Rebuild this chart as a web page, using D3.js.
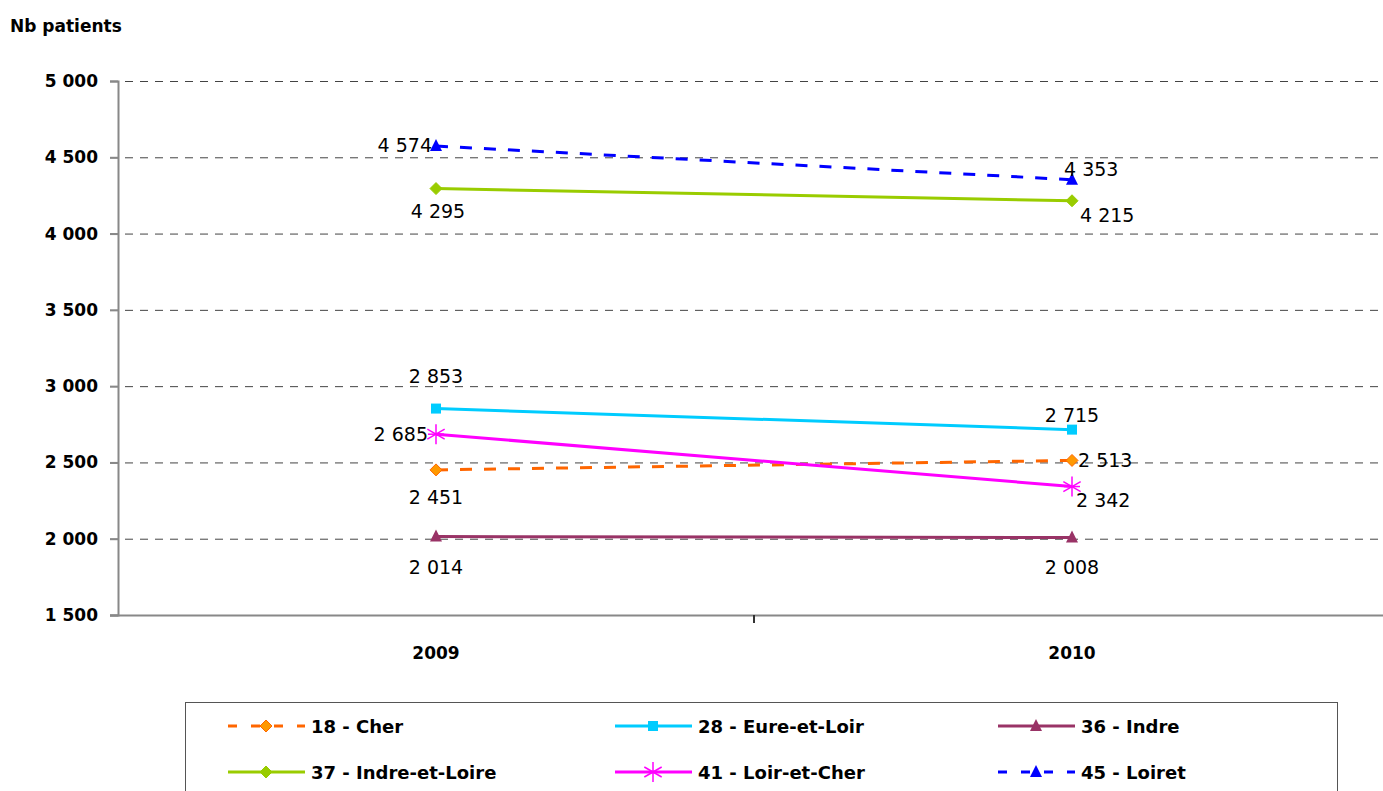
<!DOCTYPE html>
<html>
<head>
<meta charset="utf-8">
<script src="https://cdn.jsdelivr.net/npm/d3@7"></script>
<style>
  body { margin: 0; background: #fff; }
  svg { display: block; font-family: "Comic Sans MS", "DejaVu Sans", sans-serif; }
</style>
</head>
<body>
<svg id="chart" width="1383" height="791"></svg>
<script>
// data
const years = ["2009", "2010"];
const names = ["18 - Cher", "28 - Eure-et-Loir", "36 - Indre", "37 - Indre-et-Loire", "41 - Loir-et-Cher", "45 - Loiret"];
const cher = [2451, 2513];
const eure = [2853, 2715];
const indre = [2014, 2008];
const indreLoire = [4295, 4215];
const loirCher = [2685, 2342];
const loiret = [4574, 4353];
const yTicks = [1500, 2000, 2500, 3000, 3500, 4000, 4500, 5000];

const series = [
  { name: names[0], values: cher, color: "#FF6600", marker: "diamond", mfill: "#FF9900", dash: "12,12", labels: [[0, 28, "middle"], [6, 1, "start"]] },
  { name: names[1], values: eure, color: "#00CCFF", marker: "square", mfill: "#00CCFF", dash: null, labels: [[0, -32, "middle"], [0, -14, "middle"]] },
  { name: names[2], values: indre, color: "#993366", marker: "triangle", mfill: "#993366", dash: null, labels: [[0, 31, "middle"], [0, 31, "middle"]] },
  { name: names[3], values: indreLoire, color: "#99CC00", marker: "diamond", mfill: "#99CC00", dash: null, labels: [[2, 23, "middle"], [8, 15, "start"]] },
  { name: names[4], values: loirCher, color: "#FF00FF", marker: "star", mfill: "#FF00FF", dash: null, labels: [[-8, 1, "end"], [4, 14, "start"]] },
  { name: names[5], values: loiret, color: "#0000FF", marker: "triangle", mfill: "#0000FF", dash: "12,12", labels: [[-4, 0, "end"], [-8, -10, "start"]] }
];

const svg = d3.select("#chart");
const fmt = v => d3.format(",")(v).replace(/,/g, " ");

const x = d3.scaleBand().domain(years).range([118, 1390]);
const y = d3.scaleLinear().domain([1500, 5000]).range([615, 81]);

// gridlines
svg.append("g").selectAll("line").data(yTicks).join("line")
  .attr("x1", 110).attr("x2", 1383)
  .attr("y1", d => y(d) + 0.5).attr("y2", d => y(d) + 0.5)
  .attr("stroke", d => d === 1500 ? "#888" : "#444")
  .attr("stroke-width", d => d === 1500 ? 2 : 1)
  .attr("stroke-dasharray", d => d === 1500 ? null : "8,7");

// y axis
const yAxis = svg.append("g").attr("transform", "translate(118,0)")
  .call(d3.axisLeft(y).tickValues(yTicks).tickFormat(fmt).tickSize(8).tickPadding(12));
yAxis.attr("font-family", null).attr("font-size", null);
yAxis.select(".domain").attr("stroke", "#888").attr("stroke-width", 2);
yAxis.selectAll(".tick line").attr("stroke", "#888").attr("stroke-width", 2);
yAxis.selectAll("text").style("font-size", "17px").style("font-weight", "bold").attr("fill", "#000");

// x axis
const xAxis = svg.append("g").attr("transform", "translate(0,615)")
  .call(d3.axisBottom(x).tickSize(0).tickPadding(32));
xAxis.attr("font-family", null).attr("font-size", null);
xAxis.select(".domain").remove();
xAxis.selectAll("text").style("font-size", "17px").style("font-weight", "bold").attr("fill", "#000");
svg.append("line").attr("x1", 118 + x.bandwidth()).attr("x2", 118 + x.bandwidth())
  .attr("y1", 615).attr("y2", 623).attr("stroke", "#333").attr("stroke-width", 2);

svg.append("text").attr("x", 10).attr("y", 32).style("font-size", "17px").style("font-weight", "bold").text("Nb patients");

function drawMarker(g, s, cx, cy) {
  if (s.marker === "diamond") {
    g.append("path").attr("d", `M${cx},${cy - 6}L${cx + 6},${cy}L${cx},${cy + 6}L${cx - 6},${cy}Z`)
      .attr("fill", s.mfill).attr("stroke", s.color).attr("stroke-width", 1);
  } else if (s.marker === "square") {
    g.append("rect").attr("x", cx - 5).attr("y", cy - 5).attr("width", 10).attr("height", 10).attr("fill", s.mfill);
  } else if (s.marker === "triangle") {
    g.append("path").attr("d", `M${cx},${cy - 7}L${cx + 6},${cy + 5}L${cx - 6},${cy + 5}Z`).attr("fill", s.mfill);
  } else if (s.marker === "star") {
    const r = 10;
    [0, 60, 120].forEach(a => {
      const rad = a * Math.PI / 180;
      g.append("line").attr("x1", cx - r * Math.sin(rad)).attr("y1", cy - r * Math.cos(rad))
        .attr("x2", cx + r * Math.sin(rad)).attr("y2", cy + r * Math.cos(rad))
        .attr("stroke", s.color).attr("stroke-width", 1.5);
    });
    g.append("line").attr("x1", cx - 8).attr("x2", cx + 8).attr("y1", cy).attr("y2", cy)
      .attr("stroke", s.color).attr("stroke-width", 1.5);
  }
}

const line = d3.line().x((d, i) => x(years[i]) + x.bandwidth() / 2).y(d => y(d));

series.forEach(s => {
  const g = svg.append("g");
  g.append("path").datum(s.values).attr("d", line).attr("fill", "none")
    .attr("stroke", s.color).attr("stroke-width", 3).attr("stroke-dasharray", s.dash);
  s.values.forEach((v, i) => {
    const cx = x(years[i]) + x.bandwidth() / 2, cy = y(v);
    drawMarker(g, s, cx, cy);
    const lab = s.labels[i];
    g.append("text").attr("x", cx + lab[0]).attr("y", cy + lab[1] + 6)
      .attr("text-anchor", lab[2]).style("font-size", "19px").attr("fill", "#000").text(fmt(v));
  });
});

// legend
svg.append("rect").attr("x", 185.5).attr("y", 702.5).attr("width", 1152).attr("height", 100)
  .attr("fill", "none").attr("stroke", "#555").attr("stroke-width", 1);
const colX = [228, 615, 998];
const rowY = [726, 772];
series.forEach((s, i) => {
  const lx = colX[i % 3], ly = rowY[Math.floor(i / 3)];
  const g = svg.append("g");
  g.append("line").attr("x1", lx).attr("x2", lx + 77).attr("y1", ly).attr("y2", ly)
    .attr("stroke", s.color).attr("stroke-width", 3).attr("stroke-dasharray", s.dash ? "9,14" : null);
  drawMarker(g, s, lx + 38, ly);
  g.append("text").attr("x", lx + 83).attr("y", ly + 7).style("font-size", "18px").style("font-weight", "bold").text(s.name);
});
</script>
</body>
</html>
